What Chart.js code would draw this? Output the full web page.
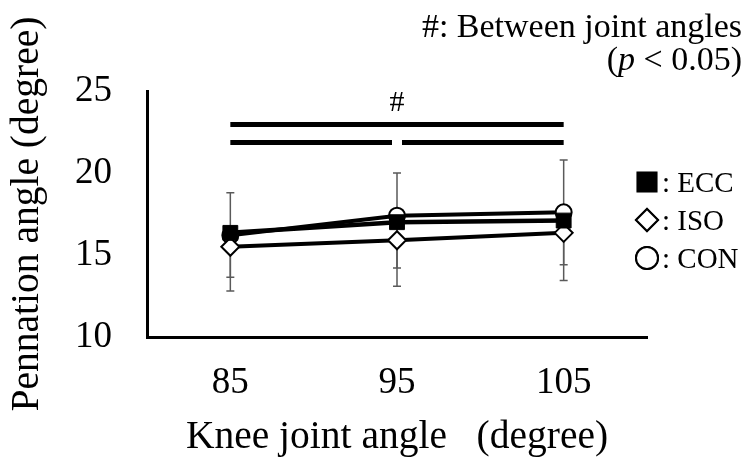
<!DOCTYPE html>
<html>
<head>
<meta charset="utf-8">
<script src="https://cdn.jsdelivr.net/npm/chart.js@4"></script>
<style>
  html, body { margin: 0; padding: 0; background: #fff; }
  #wrap { width: 755px; height: 464px; }
</style>
</head>
<body>
<div id="wrap"><canvas id="chart" width="755" height="464"></canvas></div>
<script>
// dados
const angles = ['85', '95', '105'];
const eccMean = [16.35, 17.0, 17.1];
const isoMean = [15.5, 15.9, 16.35];
const conMean = [16.2, 17.4, 17.6];
// barras de erro (um lado só por série, como no original)
const eccSdDown = [2.7, 2.8, 2.7];
const isoSdDown = [2.7, 2.8, 2.9];
const conSdUp = [2.6, 2.6, 3.2];
const yTicks = [10, 15, 20, 25];

const serif = "'Liberation Serif', 'Times New Roman', serif";

// Desenha barras de erro atrás das linhas
const errorBars = {
    id: 'errorBars',
    beforeDatasetsDraw(chart) {
        const ctx = chart.ctx;
        const x = chart.scales.x, y = chart.scales.y;
        const bars = [
            { mean: eccMean, sd: eccSdDown, dir: -1 },
            { mean: isoMean, sd: isoSdDown, dir: -1 },
            { mean: conMean, sd: conSdUp, dir: 1 }
        ];
        ctx.save();
        ctx.strokeStyle = '#5a5a5a';
        ctx.lineWidth = 1.5;
        bars.forEach(b => {
            b.mean.forEach((m, i) => {
                const px = x.getPixelForValue(i);
                const y0 = y.getPixelForValue(m);
                const y1 = y.getPixelForValue(m + b.dir * b.sd[i]);
                ctx.beginPath();
                ctx.moveTo(px, y0);
                ctx.lineTo(px, y1);
                ctx.moveTo(px - 4, y1);
                ctx.lineTo(px + 4, y1);
                ctx.stroke();
            });
        });
        ctx.restore();
    }
};

// Anotações: significância, legenda e nota
const annotations = {
    id: 'annotations',
    afterDraw(chart) {
        const ctx = chart.ctx;
        const x = chart.scales.x;
        ctx.save();
        ctx.fillStyle = '#000';
        ctx.strokeStyle = '#000';

        // barras de significância
        const x85 = x.getPixelForValue(0), x95 = x.getPixelForValue(1), x105 = x.getPixelForValue(2);
        ctx.fillRect(x85, 122, x105 - x85, 5);
        ctx.fillRect(x85, 140, x95 - 5 - x85, 5);
        ctx.fillRect(x95 + 5, 140, x105 - x95 - 5, 5);
        ctx.font = '30px ' + serif;
        ctx.textAlign = 'center';
        ctx.textBaseline = 'alphabetic';
        ctx.fillText('#', x95, 111);

        // nota no canto
        ctx.font = '34px ' + serif;
        ctx.textAlign = 'right';
        ctx.fillText('#: Between joint angles', 742, 37);
        const tail = ' < 0.05)';
        let right = 742 - ctx.measureText(tail).width;
        ctx.fillText(tail, 742, 70);
        ctx.font = 'italic 34px ' + serif;
        ctx.fillText('p', right, 70);
        right -= ctx.measureText('p').width;
        ctx.font = '34px ' + serif;
        ctx.fillText('(', right, 70);

        // legenda
        ctx.textAlign = 'left';
        ctx.textBaseline = 'middle';
        chart.data.datasets.forEach((ds, i) => {
            const cy = 182 + i * 38;
            Chart.helpers.drawPoint(ctx, {
                pointStyle: ds.pointStyle,
                radius: ds.pointStyle === 'rect' ? 13.5 : 11,
                borderWidth: 2,
                rotation: 0
            }, 647, cy);
            ctx.fillStyle = ds.pointBackgroundColor;
            ctx.strokeStyle = '#000';
            ctx.lineWidth = 2;
            ctx.fill();
            ctx.stroke();
            ctx.fillStyle = '#000';
            ctx.font = '29px ' + serif;
            ctx.fillText(': ' + ds.label, 662, cy + 2);
        });
        ctx.restore();
    }
};

const ctx = document.getElementById('chart').getContext('2d');
const chart = new Chart(ctx, {
    type: 'line',
    data: {
        labels: angles,
        datasets: [
            {
                label: 'ECC', data: eccMean,
                borderColor: '#000', borderWidth: 4.5,
                pointStyle: 'rect', pointRadius: 10.5,
                pointBackgroundColor: '#000', pointBorderColor: '#000', pointBorderWidth: 1
            },
            {
                label: 'ISO', data: isoMean,
                borderColor: '#000', borderWidth: 4,
                pointStyle: 'rectRot', pointRadius: 9,
                pointBackgroundColor: '#fff', pointBorderColor: '#000', pointBorderWidth: 2
            },
            {
                label: 'CON', data: conMean,
                borderColor: '#000', borderWidth: 4,
                pointStyle: 'circle', pointRadius: 8,
                pointBackgroundColor: '#fff', pointBorderColor: '#000', pointBorderWidth: 2
            }
        ]
    },
    options: {
        responsive: false,
        animation: false,
        events: [],
        layout: { padding: { top: 91, right: 108, bottom: 0, left: 0 } },
        plugins: {
            legend: { display: false },
            tooltip: { enabled: false }
        },
        scales: {
            x: {
                offset: true,
                grid: { display: false, drawTicks: false },
                border: { display: true, color: '#000', width: 3 },
                ticks: { color: '#000', font: { family: serif, size: 37 }, padding: 24, maxRotation: 0 },
                title: {
                    display: true, text: 'Knee joint angle   (degree)', color: '#000',
                    font: { family: serif, size: 39.5 }, padding: { top: 0, bottom: 3 }
                },
                afterFit(scale) { scale.height = 127; }
            },
            y: {
                min: 10, max: 25,
                grid: { display: false, drawTicks: false },
                border: { display: true, color: '#000', width: 3 },
                afterBuildTicks(scale) { scale.ticks = yTicks.map(v => ({ value: v })); },
                ticks: { color: '#000', font: { family: serif, size: 37 }, padding: 35 },
                title: {
                    display: true, text: 'Pennation angle (degree)', color: '#000',
                    font: { family: serif, size: 39.5 }, padding: { top: 4, bottom: 0 }
                },
                afterFit(scale) { scale.width = 147; }
            }
        }
    },
    plugins: [errorBars, annotations]
});
</script>
</body>
</html>
